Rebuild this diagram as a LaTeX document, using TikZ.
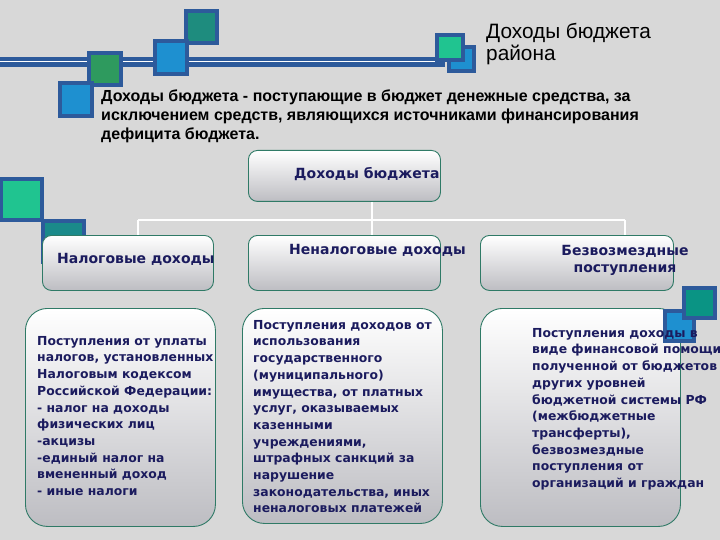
\documentclass[tikz,border=0pt]{standalone}
\usepackage{fontspec}
\setmainfont{DejaVu Sans}
\newfontfamily\lib{Liberation Sans}
\definecolor{bg}{HTML}{D8D8D8}
\definecolor{sqb}{HTML}{2D5A9B}
\definecolor{tealA}{HTML}{1E8C7E}
\definecolor{blueA}{HTML}{1E90D0}
\definecolor{greenA}{HTML}{2E9A5E}
\definecolor{mint}{HTML}{20C490}
\definecolor{tealD}{HTML}{1A8A8A}
\definecolor{boxline}{HTML}{2F7A66}
\definecolor{boxgrey}{HTML}{BDBDC2}
\definecolor{navy}{HTML}{1B1B5E}
\begin{document}
\begin{tikzpicture}[x=1pt,y=-1pt,
  sq/.style={draw=sqb, line width=3.5pt},
  conn/.style={draw=white, line width=1.3pt},
  topbox/.style={draw=boxline, line width=0.9pt, rounded corners=9pt, top color=white, bottom color=boxgrey, inner sep=0pt, anchor=north west},
  botbox/.style={draw=boxline, line width=0.9pt, rounded corners=22pt, top color=white, bottom color=boxgrey, inner sep=0pt, anchor=north west},
  rowtext/.style={text=navy, font=\bfseries\fontsize{14}{17}\selectfont, inner sep=0pt, align=center},
  bodytext/.style={text=navy, font=\bfseries\fontsize{12.4}{16.7}\selectfont, inner sep=0pt, align=left, anchor=north west},
  titletext/.style={text=black, font=\lib\fontsize{20.8}{22}\selectfont, inner sep=0pt, align=left, anchor=north west},
  deftext/.style={text=black, font=\lib\bfseries\fontsize{16}{19}\selectfont, inner sep=0pt, align=left, anchor=north west}]
\useasboundingbox (0,0) rectangle (720,540);
\clip (0,0) rectangle (720,540);
\fill[bg] (0,0) rectangle (720,540);
% band
\fill[sqb] (0,57) rectangle (445,67);
\draw[white, line width=1pt] (0,62) -- (445,62);
% top-left squares
\filldraw[sq, fill=tealA] (186,11) rectangle (217,43);
\filldraw[sq, fill=blueA] (155,41) rectangle (187,74);
\filldraw[sq, fill=greenA] (89,53) rectangle (121,85);
\filldraw[sq, fill=blueA] (60,83) rectangle (92,116);
% title squares
\filldraw[sq, fill=blueA] (449,47) rectangle (474,71);
\filldraw[sq, fill=mint] (437,35) rectangle (463,60);
% left squares
\filldraw[sq, fill=tealD] (43,221) rectangle (84,262);
\filldraw[sq, fill=mint] (1,179) rectangle (42,220);
% title and definition
\node[titletext] (title) at (486,23) {Доходы бюджета\\района};
\node[deftext] (def) at (101,90) {Доходы бюджета - поступающие в бюджет денежные средства, за\\исключением средств, являющихся источниками финансирования\\дефицита бюджета.};
% connectors
\coordinate (j) at (372,220);
\coordinate (j1) at (138,220);
\coordinate (j3) at (625,220);
% boxes
\node[topbox, minimum width=192pt, minimum height=51pt] (root) at (248,150) {};
\node[topbox, minimum width=171pt, minimum height=55pt] (b1) at (42,235) {};
\node[topbox, minimum width=192pt, minimum height=55pt] (b2) at (248,235) {};
\node[topbox, minimum width=193pt, minimum height=55pt] (b3) at (480,235) {};
\draw[conn] (root.south -| j) -- (j);
\draw[conn] (j1) -- (j3);
\draw[conn] (j1) -- (j1 |- b1.north);
\draw[conn] (j) -- (j |- b2.north);
\draw[conn] (j3) -- (j3 |- b3.north);
\node[botbox, minimum width=190pt, minimum height=218pt] (d1) at (25,308) {};
\node[botbox, minimum width=200pt, minimum height=215pt] (d2) at (242,308) {};
\node[botbox, minimum width=200pt, minimum height=218pt] (d3) at (480,308) {};
% right squares
\filldraw[sq, fill=blueA] (665,311) rectangle (694,341);
\filldraw[sq, fill=teal!70!mint] (684,288) rectangle (715,318);
% box texts
\node[rowtext, anchor=west] (t0) at (294,174) {Доходы бюджета};
\node[rowtext, anchor=west] (t1) at (57,259) {Налоговые доходы};
\node[rowtext, anchor=west] (t2) at (289,250) {Неналоговые доходы};
\node[rowtext, anchor=center] (t3) at (625,260) {Безвозмездные\\поступления};
\node[bodytext] (p1) at (37,336) {Поступления от уплаты\\налогов, установленных\\Налоговым кодексом\\Российской Федерации:\\- налог на доходы\\физических лиц\\-акцизы\\-единый налог на\\вмененный доход\\- иные налоги};
\node[bodytext] (p2) at (253,320) {Поступления доходов от\\использования\\государственного\\(муниципального)\\имущества, от платных\\услуг, оказываемых\\казенными\\учреждениями,\\штрафных санкций за\\нарушение\\законодательства, иных\\неналоговых платежей};
\node[bodytext] (p3) at (532,328) {Поступления доходы в\\виде финансовой помощи\\полученной от бюджетов\\других уровней\\бюджетной системы РФ\\(межбюджетные\\трансферты),\\безвозмездные\\поступления от\\организаций и граждан};
\end{tikzpicture}
\end{document}
